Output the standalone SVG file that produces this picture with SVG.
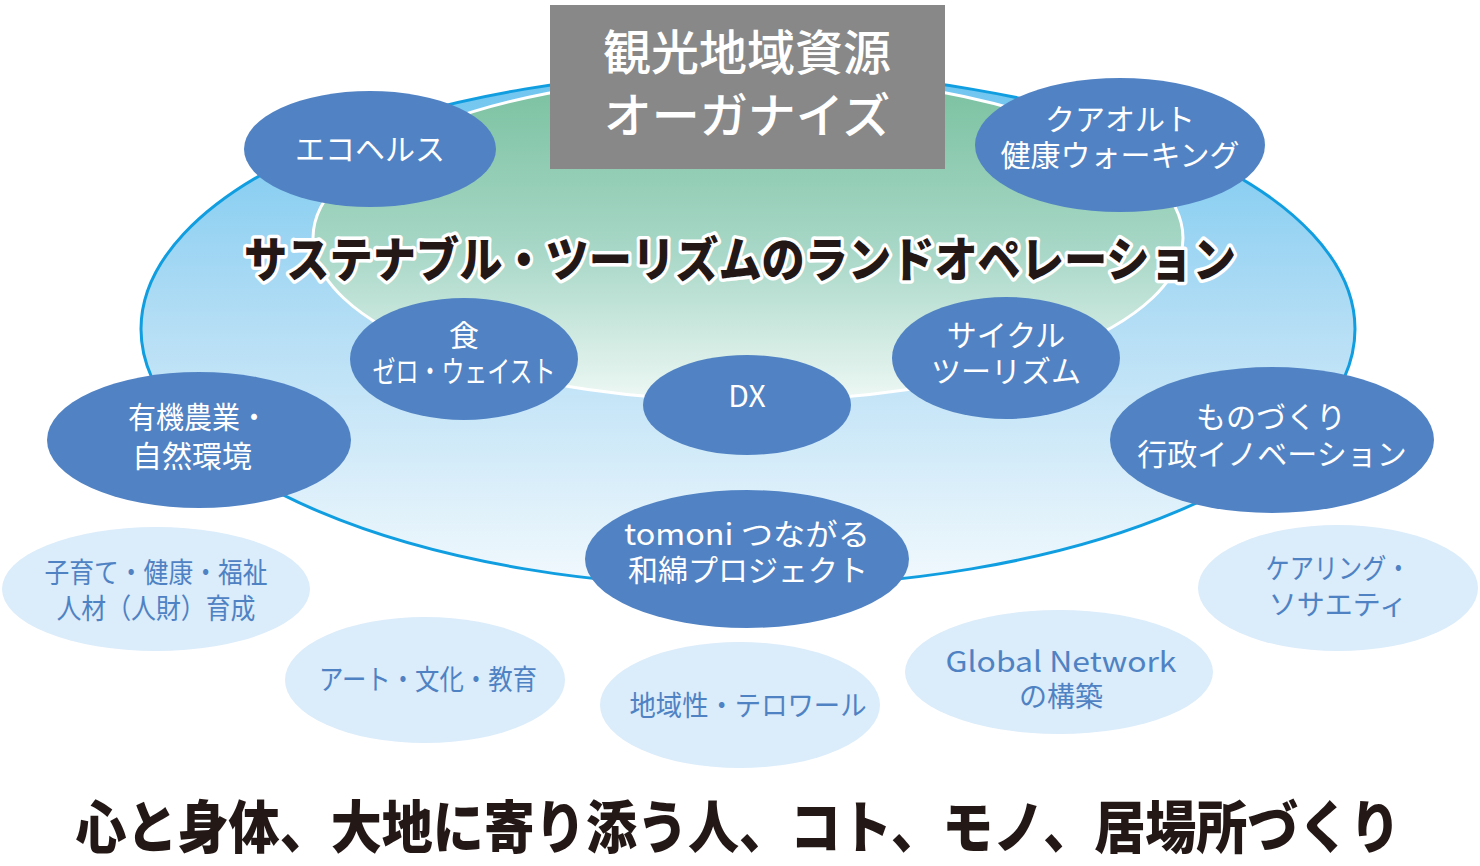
<svg xmlns="http://www.w3.org/2000/svg" width="1480" height="866" viewBox="0 0 1480 866">
<defs>
<linearGradient id="gOuter" x1="0" y1="0" x2="0" y2="1">
<stop offset="0" stop-color="#6cc4ef"/>
<stop offset="0.5" stop-color="#b5def5"/>
<stop offset="1" stop-color="#f2f9fd"/>
</linearGradient>
<linearGradient id="gInner" x1="0" y1="0" x2="0" y2="1">
<stop offset="0" stop-color="#78c09e"/>
<stop offset="0.55" stop-color="#a9d8c8"/>
<stop offset="1" stop-color="#eef8f5"/>
</linearGradient>
<style>
.blue{fill:#5183c4}
.light{fill:#dbecfa}
.wt{fill:#ffffff;font-family:"Noto Sans CJK JP","Noto Sans",sans-serif;font-size:30px;text-anchor:middle}
.lt{fill:#4f82c3;font-family:"Noto Sans CJK JP","Noto Sans",sans-serif;font-size:28px;text-anchor:middle}
</style>
</defs>
<rect width="1480" height="866" fill="#ffffff"/>
<g id="base">
<ellipse cx="748" cy="329" rx="607" ry="258" fill="url(#gOuter)" stroke="#119ee0" stroke-width="3"/>
<ellipse cx="748" cy="238" rx="435" ry="163" fill="url(#gInner)" stroke="#ffffff" stroke-width="3"/>
</g>
<g id="organize">
<rect x="550" y="5" width="395" height="164" fill="#888888"/>
<text x="747" y="70" class="wt" style="font-size:48px;font-weight:500">観光地域資源</text>
<text x="747" y="133" class="wt" style="font-size:48px;font-weight:500">オーガナイズ</text>
</g>
<g id="title">
<text x="740" y="277" textLength="992" lengthAdjust="spacingAndGlyphs" style="font-family:'Noto Sans CJK JP',sans-serif;font-weight:900;font-size:48px;fill:#231815;stroke:#ffffff;stroke-width:7;paint-order:stroke;stroke-linejoin:round" text-anchor="middle">サステナブル・ツーリズムのランドオペレーション</text>
</g>
<g id="n-eco"><ellipse class="blue" cx="370" cy="149" rx="126" ry="58"/><text class="wt" x="370" y="160">エコヘルス</text></g>
<g id="n-kurort"><ellipse class="blue" cx="1120" cy="145" rx="145" ry="67"/><text class="wt" x="1120" y="130">クアオルト</text><text class="wt" x="1120" y="166">健康ウォーキング</text></g>
<g id="n-food"><ellipse class="blue" cx="464" cy="359" rx="114" ry="61"/><text class="wt" x="464" y="346">食</text><text class="wt" x="464" y="382" textLength="183" lengthAdjust="spacingAndGlyphs">ゼロ・ウェイスト</text></g>
<g id="n-dx"><ellipse class="blue" cx="747" cy="405" rx="104" ry="50"/><text class="wt" x="747" y="407">DX</text></g>
<g id="n-cycle"><ellipse class="blue" cx="1006" cy="358" rx="114" ry="61"/><text class="wt" x="1006" y="346">サイクル</text><text class="wt" x="1006" y="382">ツーリズム</text></g>
<g id="n-organic"><ellipse class="blue" cx="199" cy="440" rx="152" ry="68"/><text class="wt" x="198" y="428" textLength="140" lengthAdjust="spacingAndGlyphs">有機農業・</text><text class="wt" x="192" y="467">自然環境</text></g>
<g id="n-mono"><ellipse class="blue" cx="1272" cy="440" rx="162" ry="73"/><text class="wt" x="1271" y="428">ものづくり</text><text class="wt" x="1272" y="465">行政イノベーション</text></g>
<g id="n-tomoni"><ellipse class="blue" cx="747" cy="559" rx="162" ry="69"/><text class="wt" x="747" y="545" textLength="246" lengthAdjust="spacingAndGlyphs">tomoni つながる</text><text class="wt" x="748" y="581">和綿プロジェクト</text></g>
<g id="n-child"><ellipse class="light" cx="156" cy="589" rx="154" ry="62"/><text class="lt" x="156" y="583" textLength="223" lengthAdjust="spacingAndGlyphs">子育て・健康・福祉</text><text class="lt" x="156" y="619" textLength="199" lengthAdjust="spacingAndGlyphs">人材（人財）育成</text></g>
<g id="n-art"><ellipse class="light" cx="425" cy="680" rx="140" ry="63"/><text class="lt" x="428" y="690" textLength="218" lengthAdjust="spacingAndGlyphs">アート・文化・教育</text></g>
<g id="n-terroir"><ellipse class="light" cx="740" cy="705" rx="140" ry="63"/><text class="lt" x="748" y="716" textLength="237" lengthAdjust="spacingAndGlyphs">地域性・テロワール</text></g>
<g id="n-global"><ellipse class="light" cx="1059" cy="672" rx="154" ry="62"/><text class="lt" x="1061" y="672" textLength="231" lengthAdjust="spacingAndGlyphs">Global Network</text><text class="lt" x="1061" y="707">の構築</text></g>
<g id="n-care"><ellipse class="light" cx="1338" cy="588" rx="140" ry="63"/><text class="lt" x="1338" y="579" textLength="145" lengthAdjust="spacingAndGlyphs">ケアリング・</text><text class="lt" x="1338" y="615">ソサエティ</text></g>
<g id="connectors"></g>
<g id="footer">
<text x="738" y="848" textLength="1325" lengthAdjust="spacingAndGlyphs" text-anchor="middle" style="font-family:'Noto Sans CJK JP',sans-serif;font-weight:900;font-size:57px;fill:#231815">心と身体、大地に寄り添う人、コト、モノ、居場所づくり</text>
</g>
</svg>
